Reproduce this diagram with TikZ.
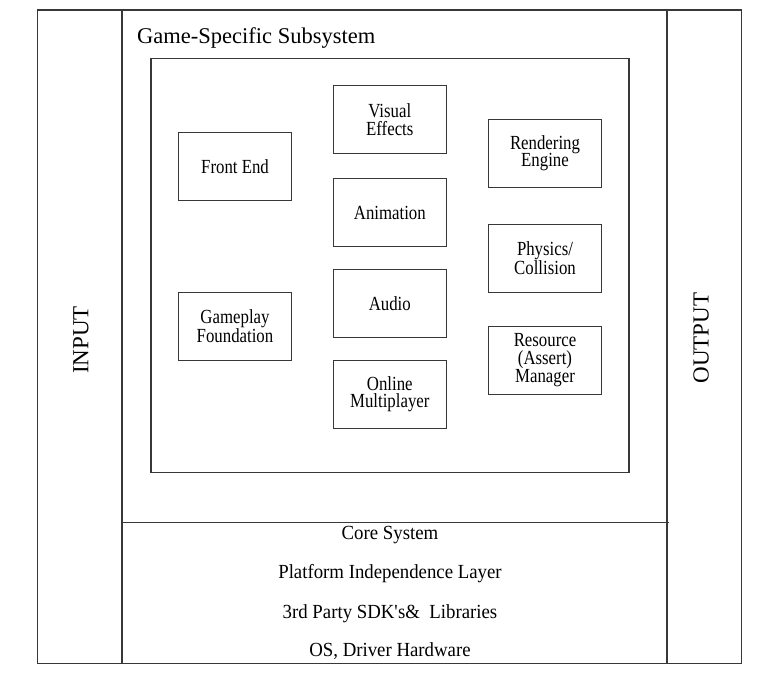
\documentclass[tikz,border=0pt]{standalone}
\usepackage{fontspec}
\setmainfont{Liberation Serif}
\newfontfamily\boxfont[FakeStretch=0.84]{Liberation Serif}
\newfontfamily\corefont[FakeStretch=0.94]{Liberation Serif}
\begin{document}
\begin{tikzpicture}[x=1pt,y=-1pt,
  frame/.style={draw=black!78, line width=1.1pt},
  module/.style={draw=black!78, line width=1.1pt, minimum width=113.5pt, minimum height=68pt,
    inner sep=0pt, align=center, font=\boxfont\fontsize{20}{17.8}\selectfont},
  layer/.style={inner sep=0pt, anchor=base, font=\corefont\fontsize{20}{22}\selectfont},
  side/.style={inner sep=0pt, rotate=90, font=\fontsize{23}{25}\selectfont}]
\useasboundingbox (0,0) rectangle (758,678);
% frames
\coordinate (otl) at (37.5,10);
\coordinate (obr) at (741.5,663.3);
\draw[frame] (otl) rectangle (obr);
\coordinate (lct) at (122,10);
\coordinate (lcb) at (122,663.3);
\coordinate (rct) at (667,10);
\coordinate (rcb) at (667,663.3);
\draw[frame] (lct) -- (lcb);
\draw[frame] (rct) -- (rcb);
\coordinate (hl) at (122,522.5);
\coordinate (hr) at (669,522.5);
\draw[frame] (hl) -- (hr);
\coordinate (itl) at (151,58.7);
\coordinate (ibr) at (629,472.3);
\draw[frame] (itl) rectangle (ibr);
% title
\node[anchor=base west, inner sep=0pt, font=\fontsize{22.5}{25}\selectfont] (title) at (137,43.3) {Game-Specific Subsystem};
% modules
\node[module] (front)  at (235,166.7)   {Front End};
\node[module] (visual) at (389.8,119.3) {Visual\\Effects};
\node[module] (render) at (545,153.2)   {Rendering\\Engine};
\node[module] (anim)   at (389.8,212.8) {Animation};
\node[module] (phys)   at (545,258.5)   {Physics/\\Collision};
\node[module] (audio)  at (389.8,303.3) {Audio};
\node[module] (game)   at (235,326.3)   {Gameplay\\Foundation};
\node[module] (res)    at (545,360.2)   {Resource\\(Assert)\\Manager};
\node[module] (online) at (389.8,394.2) {Online\\Multiplayer};
% layers
\node[layer] (core) at (390,539.3) {Core System};
\node[layer] (pil)  at (390,578.3) {Platform Independence Layer};
\node[layer] (sdk)  at (390,618.3) {3rd Party SDK\textquotesingle s\&~ Libraries};
\node[layer] (os)   at (390,656.7) {OS, Driver Hardware};
% sides
\node[side] (input)  at (81,340)  {INPUT};
\node[side] (output) at (701,338) {OUTPUT};
\end{tikzpicture}
\end{document}
